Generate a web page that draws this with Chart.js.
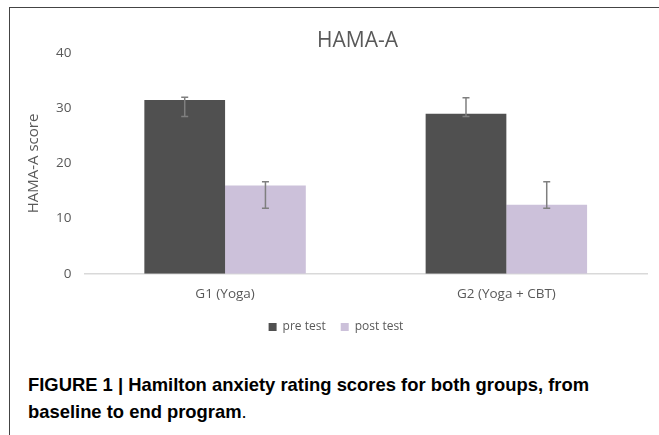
<!DOCTYPE html>
<html>
<head>
<meta charset="utf-8">
<script src="https://cdn.jsdelivr.net/npm/chart.js@4"></script>
<style>
  html, body { margin: 0; padding: 0; background: #fff; }
  body { width: 659px; height: 435px; position: relative; overflow: hidden; }
  .frame { position: absolute; left: 9px; top: 7px; right: 0; bottom: 0;
           border-top: 1.5px solid #444; border-left: 1.5px solid #444; }
  .plot { position: absolute; left: 10px; top: 8px; width: 649px; height: 340px; }
  .caption { position: absolute; left: 28px; top: 371px; width: 630px;
             font-family: "Liberation Sans", Arial, sans-serif; font-size: 18.4px;
             line-height: 27px; color: #000; white-space: nowrap; }
  .caption b { font-weight: bold; }
</style>
</head>
<body>
<div class="frame"></div>
<div class="plot"><canvas id="chart"></canvas></div>
<div class="caption"><b>FIGURE 1 | Hamilton anxiety rating scores for both groups, from<br>baseline to end program</b>.</div>
<script>
// Groups and series
const categories = ["G1 (Yoga)", "G2 (Yoga + CBT)"];
const seriesNames = ["pre test", "post test"];
const preTest = [31.5, 29.0];
const postTest = [16.0, 12.5];
// Error bar extents (lower, upper) for each bar
const preLow = [28.5, 28.5];
const preHigh = [32.0, 31.9];
const postLow = [11.9, 11.9];
const postHigh = [16.7, 16.7];
const yTicks = [0, 10, 20, 30, 40];

const textColor = "#595959";
const fontFamily = "'Open Sans', 'DejaVu Sans', sans-serif";

const errorBars = {
  id: "errorBars",
  afterDatasetsDraw(chart) {
    const ctx = chart.ctx;
    const y = chart.scales.y;
    const ranges = [[preLow, preHigh], [postLow, postHigh]];
    ctx.save();
    ctx.strokeStyle = "#7f7f7f";
    ctx.lineWidth = 1.5;
    chart.data.datasets.forEach((ds, di) => {
      const meta = chart.getDatasetMeta(di);
      meta.data.forEach((bar, i) => {
        const x = bar.x;
        const yLo = y.getPixelForValue(ranges[di][0][i]);
        const yHi = y.getPixelForValue(ranges[di][1][i]);
        const cap = 3.5;
        ctx.beginPath();
        ctx.moveTo(x, yLo); ctx.lineTo(x, yHi);
        ctx.moveTo(x - cap, yLo); ctx.lineTo(x + cap, yLo);
        ctx.moveTo(x - cap, yHi); ctx.lineTo(x + cap, yHi);
        ctx.stroke();
      });
    });
    ctx.restore();
  }
};

new Chart(document.getElementById("chart"), {
  type: "bar",
  data: {
    labels: categories,
    datasets: [
      { label: seriesNames[0], data: preTest, backgroundColor: "#505050" },
      { label: seriesNames[1], data: postTest, backgroundColor: "#ccc1da" }
    ]
  },
  options: {
    responsive: true,
    maintainAspectRatio: false,
    animation: false,
    layout: { padding: { left: 15, right: 12, top: 10, bottom: 5 } },
    datasets: { bar: { categoryPercentage: 0.574, barPercentage: 1.0 } },
    plugins: {
      title: {
        // trailing no-break spaces nudge the centred title slightly left
        display: true, text: "HAMA-A\u00a0\u00a0\u00a0", fullSize: false,
        color: textColor, font: { family: fontFamily, size: 21, weight: "normal" },
        padding: { top: 10, bottom: 0 }
      },
      legend: {
        position: "bottom",
        labels: {
          color: textColor, boxWidth: 8, boxHeight: 8, padding: 15,
          font: { family: fontFamily, size: 12 }
        }
      },
      tooltip: { enabled: false }
    },
    scales: {
      x: {
        grid: { display: false },
        border: { display: true, color: "#d9d9d9", width: 1.5 },
        ticks: { color: textColor, font: { family: fontFamily, size: 13.5 }, padding: 4 }
      },
      y: {
        min: 0, max: 40,
        afterBuildTicks(axis) { axis.ticks = yTicks.map(v => ({ value: v })); },
        grid: { display: false, drawTicks: false },
        border: { display: false },
        ticks: { color: textColor, font: { family: fontFamily, size: 13.5 }, padding: 13 },
        title: {
          display: true, text: "HAMA-A score", color: textColor,
          font: { family: fontFamily, size: 15 }, padding: { top: 0, bottom: 0 }
        }
      }
    }
  },
  plugins: [errorBars]
});
</script>
</body>
</html>
